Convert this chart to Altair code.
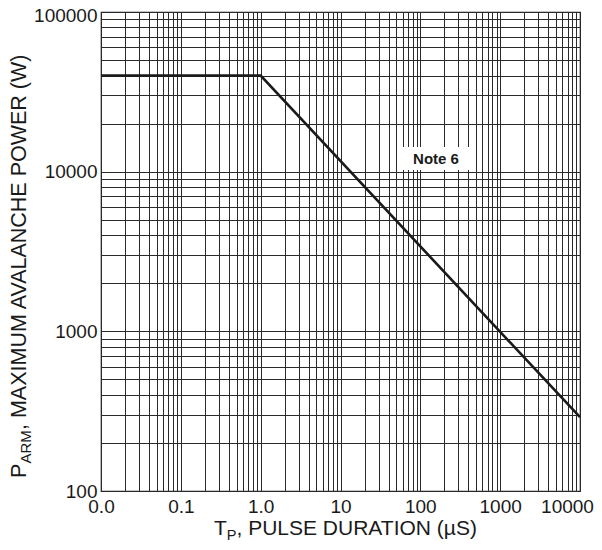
import altair as alt
import pandas as pd

# ---- data ----
pulse_us = [0.01, 1.0, 10000]          # T_P, pulse duration (µS)
power_w = [40000, 40000, 290]          # P_ARM, max avalanche power (W)

x_decades = [0.01, 0.1, 1, 10, 100, 1000, 10000]
x_labels = ["0.0", "0.1", "1.0", "10", "100", "1000", "10000"]
y_decades = [100, 1000, 10000, 100000]
y_labels = ["100", "1000", "10000", "100000"]
multipliers = [1, 2, 3, 4, 5, 6, 7, 8, 9]

x_ticks = [d * m for d in x_decades[:-1] for m in multipliers] + [x_decades[-1]]
y_ticks = [d * m for d in y_decades[:-1] for m in multipliers] + [y_decades[-1]]


def label_expr(vals, labs):
    expr = "''"
    for v, l in reversed(list(zip(vals, labs))):
        expr = f"(abs(datum.value - {v}) < {v}*1e-6) ? '{l}' : " + expr
    return expr


FONT = "Liberation Sans"
TXT = "#1a1a1a"
GRID = "#2a2a2a"
LS = 19

df = pd.DataFrame({"tp": pulse_us, "p": power_w})

x_scale = alt.Scale(type="log", domain=[0.01, 10000], nice=False)
y_scale = alt.Scale(type="log", domain=[100, 100000], nice=False)

line = alt.Chart(df).mark_line(color="#1a1a1a", strokeWidth=2.6, clip=True).encode(
    x=alt.X("tp:Q", scale=x_scale, title=None,
            axis=alt.Axis(values=x_ticks, labelExpr=label_expr(x_decades, x_labels),
                          grid=True, gridColor=GRID, gridWidth=1, gridOpacity=1,
                          ticks=False, domain=False, labelOverlap=False,
                          labelFont=FONT, labelFontSize=LS, labelColor=TXT,
                          labelPadding=6, labelBound=False, labelFlush=False,
                          labelOffset={"condition": {"test": "datum.value >= 10000", "value": -13}, "value": 0})),
    y=alt.Y("p:Q", scale=y_scale, title=None,
            axis=alt.Axis(values=y_ticks, labelExpr=label_expr(y_decades, y_labels),
                          grid=True, gridColor=GRID, gridWidth=1, gridOpacity=1,
                          ticks=False, domain=False, labelOverlap=False,
                          labelFont=FONT, labelFontSize=LS, labelColor=TXT,
                          labelPadding=4, labelBound=False, labelFlush=False,
                          labelOffset={"condition": {"test": "datum.value >= 100000", "value": 3}, "value": 0})),
)

one = pd.DataFrame({"k": [0]})

# Note 6 annotation box + text
note_box = alt.Chart(one).mark_rect(color="white").encode(
    x=alt.value(301), x2=alt.value(369), y=alt.value(135), y2=alt.value(158))
note_txt = alt.Chart(one).mark_text(font=FONT, fontSize=15, fontWeight="bold", color=TXT,
                                    align="center", baseline="middle").encode(
    x=alt.value(335), y=alt.value(146.5), text=alt.value("Note 6"))

# X title with subscript
TS = 21
SS = 14.5
xt_y = 523
x_t1 = alt.Chart(one).mark_text(font=FONT, fontSize=TS, color=TXT, align="left", baseline="alphabetic").encode(
    x=alt.value(113), y=alt.value(xt_y), text=alt.value("T"))
x_t2 = alt.Chart(one).mark_text(font=FONT, fontSize=SS, color=TXT, align="left", baseline="alphabetic").encode(
    x=alt.value(125.8), y=alt.value(xt_y + 5), text=alt.value("P"))
x_t3 = alt.Chart(one).mark_text(font=FONT, fontSize=TS, color=TXT, align="left", baseline="alphabetic").encode(
    x=alt.value(135.5), y=alt.value(xt_y), text=alt.value(", PULSE DURATION (µS)"))

# Y title with subscript (rotated)
TY = 21.5
SY = 15
yt_x = -75
y_t1 = alt.Chart(one).mark_text(font=FONT, fontSize=TY, color=TXT, align="left", baseline="alphabetic", angle=270).encode(
    x=alt.value(yt_x), y=alt.value(466), text=alt.value("P"))
y_t2 = alt.Chart(one).mark_text(font=FONT, fontSize=SY, color=TXT, align="left", baseline="alphabetic", angle=270).encode(
    x=alt.value(yt_x + 5), y=alt.value(451.5), text=alt.value("ARM"))
y_t3 = alt.Chart(one).mark_text(font=FONT, fontSize=TY, color=TXT, align="left", baseline="alphabetic", angle=270).encode(
    x=alt.value(yt_x), y=alt.value(418), text=alt.value(", MAXIMUM AVALANCHE POWER (W)"))

chart = alt.layer(line, note_box, note_txt, x_t1, x_t2, x_t3, y_t1, y_t2, y_t3).properties(
    width=479, height=479,
    autosize=alt.AutoSizeParams(type="none"),
    padding={"left": 93, "top": 4, "right": 14, "bottom": 51},
    background="white",
).configure_view(stroke="#1a1a1a", strokeWidth=1.2)

chart.save("out.html", embed_options={"renderer": "svg", "actions": False})
